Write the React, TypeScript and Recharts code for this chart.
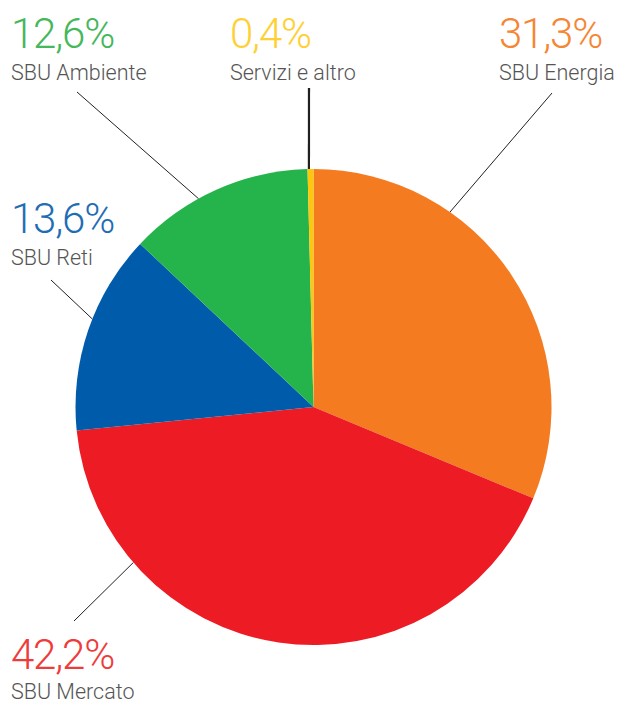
import { PieChart, Pie, Cell } from "recharts";

const names = ["SBU Energia", "SBU Mercato", "SBU Reti", "SBU Ambiente", "Servizi e altro"];
const shares = [31.3, 42.2, 13.6, 12.6, 0.4];
const shareLabels = ["31,3%", "42,2%", "13,6%", "12,6%", "0,4%"];

const fills = ["#F47B20", "#ED1C24", "#005BAA", "#25B34B", "#FDC70E"];
const textColors = ["#F58634", "#EE3B3B", "#1F6DB5", "#45B75C", "#FFD033"];

// label placement: leader line angle on rim, outer line end, text origin
const labelLayout = [
  { angle: 55, lx: 552, ly: 93, tx: 499, ty: 48, gap: 32, lw: 1 },
  { angle: 220.8, lx: 74, ly: 621, tx: 11, ty: 669, gap: 30, lw: 1 },
  { angle: 158.3, lx: 51, ly: 280, tx: 11, ty: 233, gap: 32, lw: 1 },
  { angle: 118.9, lx: 77, ly: 92, tx: 11, ty: 48, gap: 32, lw: 1 },
  { angle: 91.1, lx: 309, ly: 88, tx: 230, ty: 48, gap: 32, lw: 2.2 },
];

const data = names.map((name, i) => ({ name, value: shares[i] }));

const RAD = Math.PI / 180;
const CX = 313.5;
const CY = 407;
const R = 238;

function renderLabel(props: any) {
  const { index } = props;
  const l = labelLayout[index];
  const x0 = CX + R * Math.cos(l.angle * RAD);
  const y0 = CY - R * Math.sin(l.angle * RAD);
  return (
    <g key={`lbl-${index}`}>
      <line x1={x0} y1={y0} x2={l.lx} y2={l.ly} stroke="#231F20" strokeWidth={l.lw} />
      <text
        x={l.tx}
        y={l.ty}
        fill={textColors[index]}
        fontSize={42}
        fontWeight={300}
        letterSpacing={-1.2}
        fontFamily="Roboto, sans-serif"
      >
        {shareLabels[index]}
      </text>
      <text
        x={l.tx}
        y={l.ty + l.gap}
        fill="#555555"
        fontSize={21.5}
        fontWeight={300}
        fontFamily="Roboto, sans-serif"
      >
        {names[index]}
      </text>
    </g>
  );
}

export default function App() {
  return (
    <div style={{ position: "absolute", left: 0, top: 0, width: 619, height: 704, background: "#fff" }}>
      <PieChart width={619} height={704} margin={{ top: 0, right: 0, bottom: 0, left: 0 }}>
        <Pie
          data={data}
          dataKey="value"
          nameKey="name"
          cx={CX}
          cy={CY}
          outerRadius={R}
          startAngle={90}
          endAngle={-270}
          stroke="none"
          label={renderLabel}
          labelLine={false}
          isAnimationActive={false}
        >
          {data.map((d, i) => (
            <Cell key={d.name} fill={fills[i]} />
          ))}
        </Pie>
      </PieChart>
    </div>
  );
}
